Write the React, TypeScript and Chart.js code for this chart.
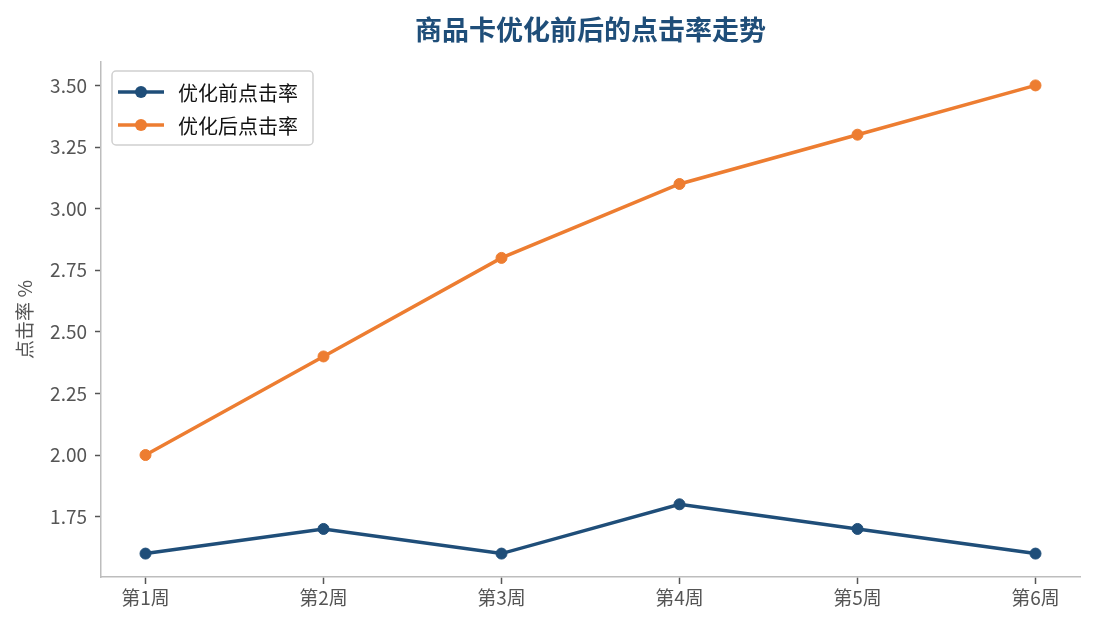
import { useEffect, useRef } from "react";
import { Chart, registerables } from "chart.js";

Chart.register(...registerables);

const weeks = ["第1周", "第2周", "第3周", "第4周", "第5周", "第6周"];
const beforeRate = [1.6, 1.7, 1.6, 1.8, 1.7, 1.6];
const afterRate = [2.0, 2.4, 2.8, 3.1, 3.3, 3.5];
const yTicks = [1.75, 2.0, 2.25, 2.5, 2.75, 3.0, 3.25, 3.5];

const FONT = "'Noto Sans CJK SC', 'Noto Sans', sans-serif";
const BLUE = "#1f4e79";
const ORANGE = "#ed7d31";

// 図の上の見出しと、プロット内の凡例を描く
const overlay = {
  id: "overlay",
  afterDraw(chart: Chart) {
    const { ctx, chartArea } = chart;
    ctx.save();
    ctx.textAlign = "center";
    ctx.textBaseline = "middle";
    ctx.font = `bold 27px ${FONT}`;
    ctx.fillStyle = BLUE;
    ctx.fillText("商品卡优化前后的点击率走势", (chartArea.left + chartArea.right) / 2, 30);

    const x0 = chartArea.left + 11;
    const y0 = chartArea.top + 9;
    const w = 201;
    const h = 74;
    ctx.beginPath();
    ctx.roundRect(x0, y0, w, h, 4);
    ctx.fillStyle = "rgba(255,255,255,0.85)";
    ctx.fill();
    ctx.strokeStyle = "#d0d0d0";
    ctx.lineWidth = 1.5;
    ctx.stroke();

    chart.data.datasets.forEach((ds: any, i: number) => {
      const cy = y0 + 21 + i * 33;
      ctx.strokeStyle = ds.borderColor;
      ctx.lineWidth = 3.5;
      ctx.beginPath();
      ctx.moveTo(x0 + 6, cy);
      ctx.lineTo(x0 + 52, cy);
      ctx.stroke();
      ctx.beginPath();
      ctx.arc(x0 + 29, cy, 6, 0, Math.PI * 2);
      ctx.fillStyle = ds.backgroundColor;
      ctx.fill();
      ctx.textAlign = "left";
      ctx.fillStyle = "#111";
      ctx.font = `20px ${FONT}`;
      ctx.fillText(ds.label, x0 + 66, cy + 1);
    });
    ctx.restore();
  },
};

export default function App() {
  const canvasRef = useRef<HTMLCanvasElement | null>(null);

  useEffect(() => {
    document.body.style.margin = "0";
    const el = canvasRef.current;
    if (!el) return;

    const chart = new Chart(el, {
      type: "line",
      data: {
        datasets: [
          {
            label: "优化前点击率",
            data: beforeRate.map((v, i) => ({ x: i, y: v })),
            borderColor: BLUE,
            backgroundColor: BLUE,
            borderWidth: 3.5,
            pointRadius: 5.5,
            pointBorderWidth: 1,
            pointHoverRadius: 5.5,
          },
          {
            label: "优化后点击率",
            data: afterRate.map((v, i) => ({ x: i, y: v })),
            borderColor: ORANGE,
            backgroundColor: ORANGE,
            borderWidth: 3.5,
            pointRadius: 5.5,
            pointBorderWidth: 1,
            pointHoverRadius: 5.5,
          },
        ],
      },
      options: {
        animation: false,
        responsive: false,
        layout: { padding: { top: 62, right: 15, left: 0, bottom: 0 } },
        plugins: {
          legend: { display: false },
          title: { display: false },
          tooltip: { enabled: false },
        },
        scales: {
          x: {
            type: "linear",
            min: -0.25,
            max: 5.25,
            afterBuildTicks: (axis: any) => {
              axis.ticks = weeks.map((_, i) => ({ value: i }));
            },
            afterFit: (axis: any) => {
              axis.height = 53;
            },
            ticks: {
              callback: (v: any) => weeks[v] ?? "",
              color: "#555",
              font: { family: FONT, size: 19 },
              padding: 2,
              autoSkip: false,
              maxRotation: 0,
            },
            grid: {
              drawOnChartArea: false,
              drawTicks: true,
              tickLength: 7,
              tickWidth: 1.5,
              tickColor: "#555",
            },
            border: { color: "#bdbdbd", width: 1.5 },
          },
          y: {
            min: 1.505,
            max: 3.595,
            afterBuildTicks: (axis: any) => {
              axis.ticks = yTicks.map((v) => ({ value: v }));
            },
            afterFit: (axis: any) => {
              axis.width = 101;
            },
            ticks: {
              callback: (v: any) => Number(v).toFixed(2),
              color: "#555",
              font: { family: FONT, size: 19 },
              padding: 8,
            },
            grid: {
              drawOnChartArea: false,
              drawTicks: true,
              tickLength: 6,
              tickWidth: 1.5,
              tickColor: "#555",
            },
            border: { color: "#bdbdbd", width: 1.5 },
            title: {
              display: true,
              text: "点击率 %",
              color: "#555",
              font: { family: FONT, size: 19 },
              padding: { top: 13, bottom: 0 },
            },
          },
        },
      },
      plugins: [overlay],
    });

    return () => chart.destroy();
  }, []);

  return (
    <div style={{ width: 1095, height: 630, background: "#fff" }}>
      <canvas ref={canvasRef} width={1095} height={630} />
    </div>
  );
}
